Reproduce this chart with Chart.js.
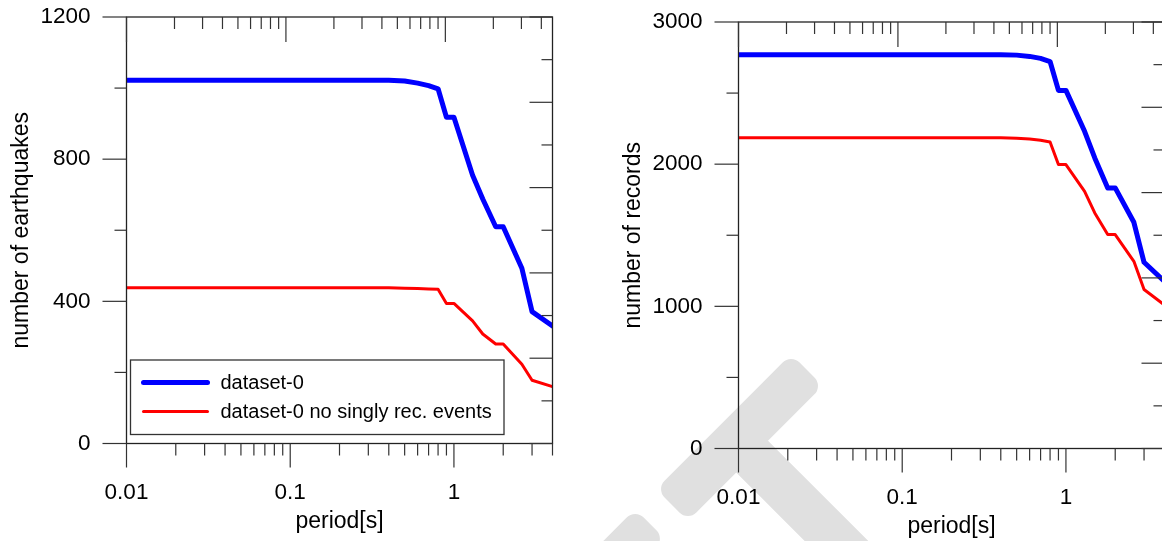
<!DOCTYPE html>
<html>
<head>
<meta charset="utf-8">
<script src="https://cdn.jsdelivr.net/npm/chart.js@4.4.0/dist/chart.umd.min.js"></script>
<style>
  html, body { margin: 0; padding: 0; background: #fff; overflow: hidden; }
  .wrap { position: relative; width: 1162px; height: 541px; overflow: hidden; }
  canvas { position: absolute; }
  #left { left: 0; top: 0; }
  #right { left: 612px; top: 5px; }
  .mark { position: absolute; background: #e0e0e0; border-radius: 12px; }
</style>
</head>
<body>
<div class="wrap">
  <div class="mark" style="left:644px;top:415px;width:191px;height:45px;transform:rotate(-45deg)"></div>
  <div class="mark" style="left:707px;top:489px;width:200px;height:45px;transform:rotate(45deg)"></div>
  <div class="mark" style="left:522px;top:556px;width:150px;height:42px;transform:rotate(-45deg)"></div>
  <canvas id="left" width="612" height="541"></canvas>
  <canvas id="right" width="612" height="541"></canvas>
</div>
<script>
// periods (s) where the curves have vertices
const periods = [0.01, 0.4, 0.5, 0.6, 0.7, 0.8, 0.9, 1.0, 1.3, 1.5, 1.8, 2.0, 2.6, 3.0, 4.0];

// left panel: number of earthquakes
const quakesAll   = [1022, 1022, 1020, 1014, 1007, 998, 918, 918, 755, 688, 610, 610, 493, 371, 331];
const quakesMulti = [438, 438, 437, 436, 435, 434, 394, 394, 345, 308, 280, 280, 223, 178, 160];

// right panel: number of records
const recordsAll   = [2770, 2770, 2767, 2758, 2744, 2722, 2519, 2519, 2231, 2044, 1833, 1833, 1591, 1310, 1175];
const recordsMulti = [2185, 2185, 2183, 2177, 2168, 2156, 1997, 1997, 1809, 1657, 1505, 1505, 1317, 1118, 1009];

const seriesNames = ['dataset-0', 'dataset-0 no singly rec. events'];
const xLabels = [0.01, 0.1, 1];

Chart.defaults.font.family = "'Liberation Sans', Arial, sans-serif";
Chart.defaults.color = '#000';

// log ticks 1..9 x 10^d inside the scale range
function logTicks(scale) {
  const out = [];
  for (let d = -2; d <= 1; d++) {
    for (let k = 1; k <= 9; k++) {
      const v = +(k * Math.pow(10, d)).toPrecision(6);
      if (v >= scale.min * 0.999 && v <= scale.max * 1.001) out.push({ v, major: k === 1 });
    }
  }
  return out;
}

// frame + tick marks like the original plotting program (outer on left/bottom, inner on top/right)
const frameTicks = {
  id: 'frameTicks',
  afterDatasetsDraw(chart) {
    const ctx = chart.ctx;
    const a = chart.chartArea;
    const { x, x2, y, y2 } = chart.scales;
    const seg = (x1, y1, x3, y3) => { ctx.beginPath(); ctx.moveTo(x1, y1); ctx.lineTo(x3, y3); ctx.stroke(); };
    ctx.save();
    ctx.strokeStyle = '#222';
    ctx.lineWidth = 1.3;
    ctx.strokeRect(a.left, a.top, a.right - a.left, a.bottom - a.top);
    ctx.strokeStyle = '#333';
    ctx.lineWidth = 1.2;
    logTicks(x).forEach(t => {
      const px = x.getPixelForValue(t.v);
      seg(px, a.bottom, px, a.bottom + (t.major ? 24 : 12));
    });
    logTicks(x2).forEach(t => {
      const px = x2.getPixelForValue(t.v);
      seg(px, a.top, px, a.top + (t.major ? 25 : 12));
    });
    const step = y.options.ticks.stepSize;
    for (let i = 0; i * step / 2 <= y.max; i++) {
      const py = y.getPixelForValue(i * step / 2);
      seg(a.left - (i % 2 === 0 ? 24 : 12), py, a.left, py);
    }
    for (let i = 0; i <= 10; i++) {
      const py = y2.getPixelForValue(i / 2);
      seg(a.right - (i % 2 === 0 ? 23 : 11), py, a.right, py);
    }
    ctx.restore();
  }
};

// boxed legend in the lower left of the plot
const boxLegend = {
  id: 'boxLegend',
  afterDraw(chart, args, opts) {
    if (!opts.show) return;
    const ctx = chart.ctx;
    const a = chart.chartArea;
    const left = a.left + 4, top = a.bottom - 83.5, w = 373.5, h = 74.5;
    ctx.save();
    ctx.strokeStyle = '#333';
    ctx.lineWidth = 1.3;
    ctx.strokeRect(left, top, w, h);
    ctx.font = "20px 'Liberation Sans', Arial, sans-serif";
    ctx.fillStyle = '#000';
    ctx.textBaseline = 'middle';
    chart.data.datasets.forEach((ds, i) => {
      const cy = top + 22.5 + i * 29;
      ctx.strokeStyle = ds.borderColor;
      ctx.lineWidth = ds.borderWidth;
      ctx.lineCap = 'round';
      ctx.beginPath();
      ctx.moveTo(left + 13, cy);
      ctx.lineTo(left + 77, cy);
      ctx.stroke();
      ctx.fillText(ds.label, left + 90, cy + 1);
    });
    ctx.restore();
  }
};

function makePanel(id, yTitle, allVals, multiVals, yMax, yStep, showLegend) {
  return new Chart(document.getElementById(id), {
    type: 'line',
    data: {
      datasets: [
        {
          label: seriesNames[0],
          data: periods.map((p, i) => ({ x: p, y: allVals[i] })),
          borderColor: '#0000ff',
          borderWidth: 5,
        },
        {
          label: seriesNames[1],
          data: periods.map((p, i) => ({ x: p, y: multiVals[i] })),
          borderColor: '#ff0000',
          borderWidth: 3,
        },
      ],
    },
    options: {
      responsive: false,
      animation: false,
      events: [],
      layout: { padding: { left: 0, top: 17, right: 59.5, bottom: 0 } },
      elements: {
        point: { radius: 0 },
        line: { tension: 0, borderCapStyle: 'round', borderJoinStyle: 'round' },
      },
      scales: {
        x: {
          type: 'logarithmic',
          position: 'bottom',
          min: 0.01,
          max: 4,
          afterBuildTicks: s => { s.ticks = xLabels.map(v => ({ value: v })); },
          afterFit: s => { s.height = 97.5; },
          grid: { display: true, drawOnChartArea: false, tickLength: 25, color: 'rgba(0,0,0,0)' },
          border: { display: false },
          ticks: { font: { size: 22.5 }, padding: 11, maxRotation: 0, callback: v => String(v) },
          title: { display: true, text: 'period[s]', font: { size: 23 }, padding: { top: 0, bottom: 6 } },
        },
        x2: { type: 'logarithmic', position: 'top', min: 0.01, max: 4.7, display: false },
        y: {
          position: 'left',
          min: 0,
          max: yMax,
          afterFit: s => { s.width = 126.5; },
          grid: { display: true, drawOnChartArea: false, tickLength: 36, color: 'rgba(0,0,0,0)' },
          border: { display: false },
          ticks: { stepSize: yStep, font: { size: 22.5 }, padding: 0, callback: v => String(v) },
          title: { display: true, text: yTitle, font: { size: 23 }, padding: { top: 8, bottom: 0 } },
        },
        y2: { position: 'right', min: 0, max: 5, display: false },
      },
      plugins: {
        legend: { display: false },
        tooltip: { enabled: false },
        boxLegend: { show: showLegend },
      },
    },
    plugins: [frameTicks, boxLegend],
  });
}

makePanel('left', 'number of earthquakes', quakesAll, quakesMulti, 1200, 400, true);
makePanel('right', 'number of records', recordsAll, recordsMulti, 3000, 1000, false);
</script>
</body>
</html>
